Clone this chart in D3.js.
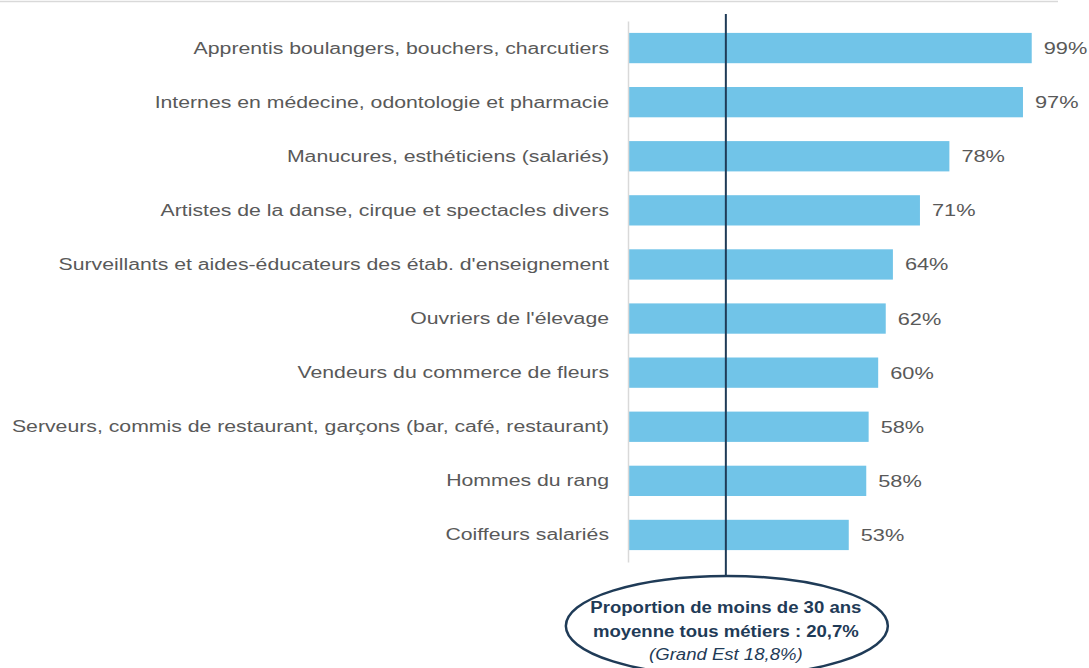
<!DOCTYPE html>
<html>
<head>
<meta charset="utf-8">
<script src="https://cdn.jsdelivr.net/npm/d3@7"></script>
<style>
  body { margin: 0; background: #fff; }
  svg { display: block; font-family: "Liberation Sans", Arial, sans-serif; }
</style>
</head>
<body>
<div id="chart"></div>
<script>
// categories, top to bottom
const metiers = [
  "Apprentis boulangers, bouchers, charcutiers",
  "Internes en médecine, odontologie et pharmacie",
  "Manucures, esthéticiens (salariés)",
  "Artistes de la danse, cirque et spectacles divers",
  "Surveillants et aides-éducateurs des étab. d'enseignement",
  "Ouvriers de l'élevage",
  "Vendeurs du commerce de fleurs",
  "Serveurs, commis de restaurant, garçons (bar, café, restaurant)",
  "Hommes du rang",
  "Coiffeurs salariés"
];
// share of under-30s (%)
const parts = [99.0, 96.8, 78.3, 70.9, 64.1, 62.3, 60.4, 58.0, 57.4, 53.0];
const partLabels = ["99%", "97%", "78%", "71%", "64%", "62%", "60%", "58%", "58%", "53%"];
// where the average line sits on the bar scale
const refLinePos = 22.1;
const bulleLignes = [
  "Proportion de moins de 30 ans",
  "moyenne tous métiers : 20,7%",
  "(Grand Est 18,8%)"
];

const W = 1089, H = 668;
// the original picture is a bit stretched sideways, text too
const sx = 1.228;

const svg = d3.select("#chart").append("svg")
  .attr("width", W)
  .attr("height", H);

// scales
let x = d3.scaleLinear()
  .domain([-2.5, 100])
  .range([628, 1035.7]);

let y = d3.scaleBand()
  .domain(metiers)
  .range([21, 562])
  .paddingInner(0.44)
  .paddingOuter(0.22);

// top grey rule
svg.append("line")
  .attr("x1", 0).attr("x2", 1058)
  .attr("y1", 1.5).attr("y2", 1.5)
  .attr("stroke", "#d9d9d9")
  .attr("stroke-width", 1.5);

// bars
svg.selectAll("rect.bar")
  .data(parts)
  .enter()
  .append("rect")
  .attr("class", "bar")
  .attr("x", x(-2.5))
  .attr("y", (d, i) => y(metiers[i]))
  .attr("width", d => x(d) - x(-2.5))
  .attr("height", y.bandwidth())
  .attr("fill", "#71c4e8");

// category axis
let yAxis = d3.axisLeft(y).tickSize(0).tickPadding(19);
let gy = svg.append("g")
  .attr("transform", `translate(${x(-2.5)},0)`)
  .call(yAxis);
gy.select(".domain").attr("stroke", "#d9d9d9").attr("stroke-width", 1.5);
gy.selectAll("text")
  .attr("x", -19 / sx)
  .attr("transform", `scale(${sx},1)`)
  .attr("font-size", "17.3px")
  .attr("font-family", "Liberation Sans, Arial, sans-serif")
  .attr("fill", "#595959");

// data labels
svg.selectAll("text.val")
  .data(parts)
  .enter()
  .append("text")
  .attr("class", "val")
  .attr("transform", (d, i) => `translate(${x(d) + 12},${y(metiers[i]) + y.bandwidth() / 2}) scale(1.28,1)`)
  .attr("dy", "0.35em")
  .attr("font-size", "17px")
  .attr("fill", "#595959")
  .text((d, i) => partLabels[i]);

// average line
svg.append("line")
  .attr("x1", x(refLinePos)).attr("x2", x(refLinePos))
  .attr("y1", 14).attr("y2", 576)
  .attr("stroke", "#1f3b57")
  .attr("stroke-width", 2);

// bubble
let cx = x(refLinePos) + 1;
svg.append("ellipse")
  .attr("cx", cx)
  .attr("cy", 626)
  .attr("rx", 161)
  .attr("ry", 50)
  .attr("fill", "#fff")
  .attr("stroke", "#1f3b57")
  .attr("stroke-width", 2.5);

svg.selectAll("text.bulle")
  .data(bulleLignes)
  .enter()
  .append("text")
  .attr("class", "bulle")
  .attr("transform", (d, i) => `translate(${cx - 1},${[613, 637, 660][i]}) scale(1.16,1)`)
  .attr("text-anchor", "middle")
  .attr("font-size", "16px")
  .attr("font-weight", (d, i) => i < 2 ? "bold" : "normal")
  .attr("font-style", (d, i) => i == 2 ? "italic" : "normal")
  .attr("fill", "#1f3b57")
  .text(d => d);
</script>
</body>
</html>
